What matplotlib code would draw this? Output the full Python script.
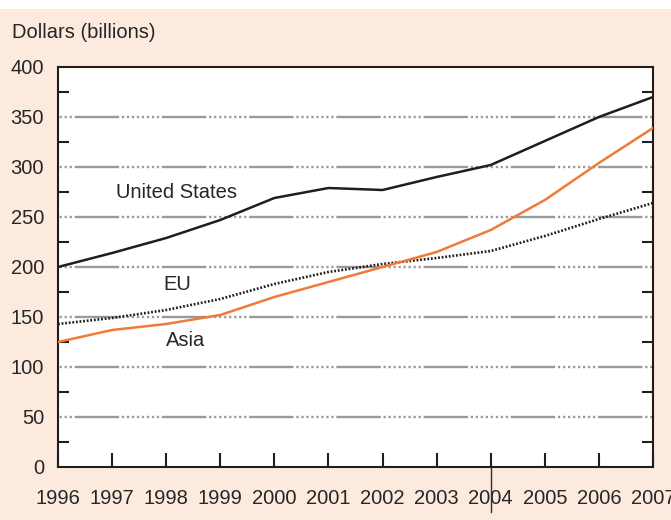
import numpy as np
import matplotlib
matplotlib.use('Agg')
import matplotlib.pyplot as plt
import matplotlib.transforms as mtransforms

# Data
years = [1996, 1997, 1998, 1999, 2000, 2001, 2002, 2003, 2004, 2005, 2006, 2007]
us = [200, 214, 229, 247, 269, 279, 277, 290, 302, 326, 350, 370]
eu = [143, 149, 157, 168, 183, 195, 203, 209, 216, 231, 248, 264]
asia = [125, 137, 143, 152, 170, 185, 200, 215, 237, 267, 304, 339]
yticks = [0, 50, 100, 150, 200, 250, 300, 350, 400]

plt.rcParams['font.family'] = ['Liberation Sans', 'DejaVu Sans']
plt.rcParams['lines.scale_dashes'] = False

bg = '#fdeadf'
txt = '#262626'
fig = plt.figure(figsize=(6.71, 5.20), dpi=100, facecolor=bg)
# white strip along the top edge
fig.patches.append(plt.Rectangle((0, 1 - 9/520), 1, 9/520, transform=fig.transFigure,
                                 facecolor='white', edgecolor='none', zorder=0))
ax = fig.add_axes([58/671, 53/520, 595/671, 400/520])
ax.set_facecolor('white')

# gridlines: long dash followed by a run of dots
gdash = (50.8, [32, 2] + [1.6, 2] * 8)
for v in yticks[1:-1]:
    ax.axhline(v, color='#9a9a9a', lw=1.7, linestyle=gdash, zorder=1)

ax.plot(years, us, color='#1e1e1e', lw=1.8, zorder=3)
ax.plot(years, eu, color='#1e1e1e', lw=1.9, linestyle=(0, (1.3, 1.3)), zorder=3)
ax.plot(years, asia, color='#f07a3a', lw=1.8, zorder=3)

ax.text(1998.2, 274, 'United States', fontsize=14.5, color=txt, ha='center', va='center')
ax.text(1998.2, 182, 'EU', fontsize=14.5, color=txt, ha='center', va='center')
ax.text(1998.35, 127, 'Asia', fontsize=14.5, color=txt, ha='center', va='center')

ax.set_xlim(1996, 2007)
ax.set_ylim(0, 400)
ax.set_xticks(years)
ax.set_xticklabels([str(y) for y in years])
ax.set_yticks(yticks)
ax.set_yticks([25 + 50 * i for i in range(8)], minor=True)

ax.tick_params(axis='x', direction='in', length=10, width=1.5, color='#1e1e1e',
               labelsize=14.5, pad=16, labelcolor=txt)
ax.tick_params(axis='y', which='major', direction='in', length=0, labelsize=14.5,
               pad=10, labelcolor=txt)
ax.tick_params(axis='y', which='minor', direction='in', length=8, width=1.5,
               color='#1e1e1e', left=True, right=True)
for s in ax.spines.values():
    s.set_color('#1e1e1e')
    s.set_linewidth(1.5)

# stray vertical mark through the 2004 label in the original
trans = mtransforms.blended_transform_factory(ax.transData, ax.transAxes)
ax.plot([2004, 2004], [0, -0.112], transform=trans, color='#2a3440', lw=1.0, clip_on=False)

fig.text(12/671, 1 - 32/520, 'Dollars (billions)', fontsize=14.5, color=txt,
         ha='left', va='center')

fig.savefig('out.png', dpi=100, facecolor=bg)
